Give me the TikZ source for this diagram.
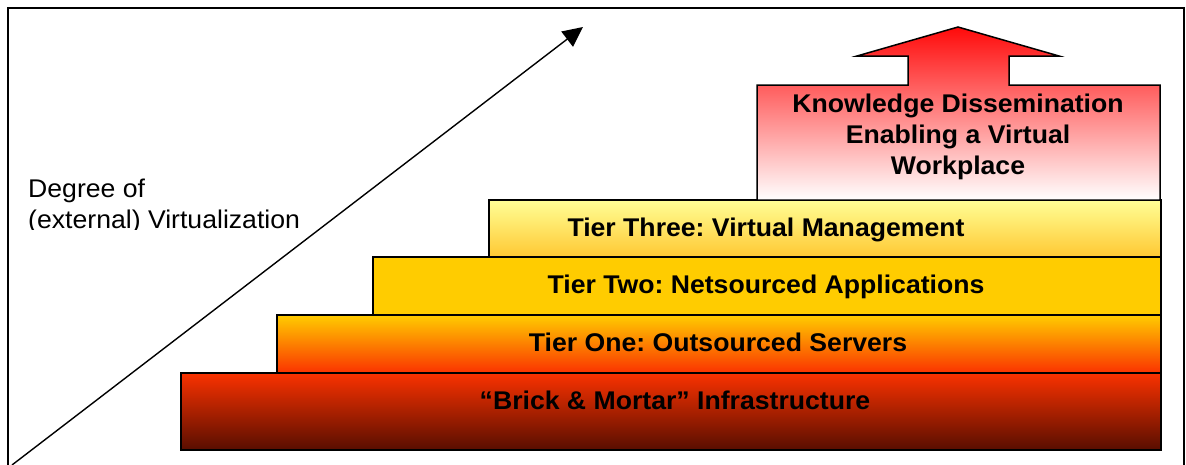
\documentclass[tikz,border=0pt]{standalone}
\usepackage{fontspec}
\setmainfont{Liberation Sans}[FakeStretch=1.04]
\usetikzlibrary{arrows.meta}
\definecolor{gold}{RGB}{255,204,0}
\definecolor{orng}{RGB}{255,140,0}
\definecolor{redor}{RGB}{250,50,0}
\definecolor{midbrown}{RGB}{190,35,0}
\definecolor{darkbrown}{RGB}{88,14,0}
\definecolor{ltyel}{RGB}{255,255,150}
\definecolor{yelor}{RGB}{255,200,50}
\definecolor{kred}{RGB}{255,10,10}
\frenchspacing
\begin{document}
\begin{tikzpicture}[x=1pt,y=-1pt,line join=miter]
\tikzset{
  box/.style={draw=black,line width=1.5pt},
  lbl/.style={font=\fontsize{25.6}{31}\selectfont\bfseries,inner sep=0,anchor=base},
  plain/.style={font=\fontsize{25.6}{31}\selectfont,inner sep=0,align=left,anchor=north west},
  frame/.style={draw=black,line width=2pt},
  axisarrow/.style={draw=black,line width=1.4pt,-{Triangle[length=20pt,width=19pt]}}
}
\useasboundingbox (0,0) rectangle (1186,464);
% frame
\draw[frame] (8,466) -- (8,8) -- (1184,8) -- (1184,466);
% steps
\path[box,top color=redor,middle color=midbrown,bottom color=darkbrown] (181,373) rectangle (1161,450);
\path[box,top color=gold,middle color=orng,bottom color=redor] (277,315) rectangle (1161,373);
\path[box,fill=gold] (373,257) rectangle (1161,315);
\path[box,top color=ltyel,bottom color=yelor] (489,200) rectangle (1161,257);
% knowledge arrow box
\path[box,top color=kred,bottom color=white]
  (757,200) -- (757,85) -- (908,85) -- (908,56) -- (857,56) -- (958,27)
  -- (1059,56) -- (1009,56) -- (1009,85) -- (1160,85) -- (1160,200) -- cycle;
% texts
\node[lbl] (t3) at (766,236) {Tier Three: Virtual Management};
\node[lbl] (t2) at (766,293) {Tier Two: Netsourced Applications};
\node[lbl] (t1) at (718,351) {Tier One: Outsourced Servers};
\node[lbl] (t0) at (675,409) {“Brick \& Mortar” Infrastructure};
\node[font=\fontsize{25.6}{31}\selectfont\bfseries,align=center,inner sep=0] (kd) at (958,137)
  {Knowledge Dissemination\\Enabling a Virtual\\Workplace};
\begin{scope}
  \clip (0,0) rectangle (480,229);
  \node[plain] (deg) at (28,178.5) {Degree of\\(external) Virtualization};
\end{scope}
% axis arrow
\coordinate (a0) at (12,465);
\coordinate (a1) at (583,27);
\draw[axisarrow] (a0) -- (a1);
\end{tikzpicture}
\end{document}
